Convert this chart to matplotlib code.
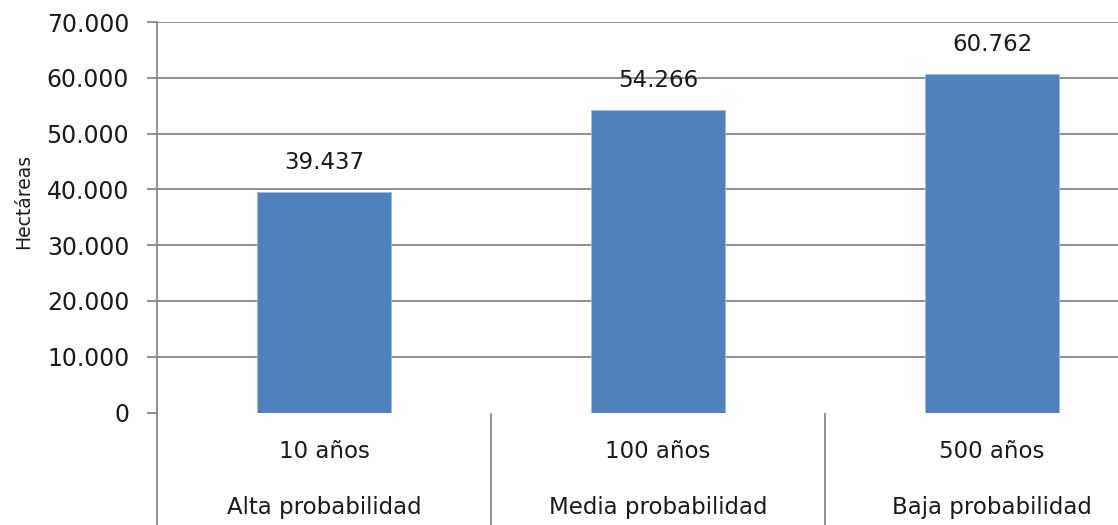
"""Hectáreas por periodo de retorno (estilo Excel)."""

import matplotlib

matplotlib.use("Agg")
import matplotlib.pyplot as plt
import matplotlib.transforms as mtransforms
from matplotlib.ticker import FuncFormatter, MultipleLocator

# data
periodos = ["10 años", "100 años", "500 años"]
probabilidad = ["Alta probabilidad", "Media probabilidad", "Baja probabilidad"]
hectareas = [39437, 54266, 60762]

BAR = "#4F81BD"
GRID = "#878787"
TXT = "#1a1a1a"


def miles(v, _pos=None):
    return f"{int(round(v)):,}".replace(",", ".")


def main() -> None:
    plt.rcParams["font.family"] = ["DejaVu Sans"]
    fig = plt.figure(figsize=(11.18, 5.25), dpi=100)
    # right edge of the plot runs past the picture, as in the cropped original
    ax = fig.add_axes([157 / 1118, 112.5 / 525, 1002 / 1118, 390.5 / 525])

    xs = range(len(hectareas))
    ax.bar(xs, hectareas, width=0.4, color=BAR, edgecolor="#9dbbe0", linewidth=0.6, zorder=3)
    for x, v in zip(xs, hectareas):
        ax.annotate(miles(v), (x, v), xytext=(0, 29.5), textcoords="offset pixels",
                    ha="center", va="center", fontsize=16.5, color=TXT)

    ax.set_xlim(-0.5, len(hectareas) - 0.5)
    ax.set_ylim(0, 70000)
    ax.yaxis.set_major_locator(MultipleLocator(10000))
    ax.yaxis.set_major_formatter(FuncFormatter(miles))
    ax.grid(axis="y", color=GRID, linewidth=1.3, zorder=0)
    ax.tick_params(axis="y", length=7, width=1.3, color=GRID, labelsize=17,
                   labelcolor=TXT, pad=13)
    ax.set_xticks([])
    for s in ("top", "right", "bottom"):
        ax.spines[s].set_visible(False)
    ax.spines["left"].set_color(GRID)
    ax.spines["left"].set_linewidth(1.3)
    ax.set_ylabel("Hectáreas", fontsize=13.5, color=TXT)
    ax.yaxis.set_label_coords(-0.124, 0.54)

    # no line along zero, like the original
    fig.canvas.draw()
    for tick in ax.yaxis.get_major_ticks():
        if abs(tick.get_loc()) < 1:
            tick.gridline.set_visible(False)

    # two-level category axis
    trans = mtransforms.blended_transform_factory(ax.transData, ax.transAxes)
    for x, (p, q) in enumerate(zip(periodos, probabilidad)):
        ax.text(x, -0.1, p, transform=trans, ha="center", va="center",
                fontsize=16.5, color=TXT)
        ax.text(x, -0.244, q, transform=trans, ha="center", va="center",
                fontsize=16.5, color=TXT)
    for b in [-0.5, 0.5, 1.5]:
        ax.plot([b, b], [0 if b == -0.5 else -0.003, -0.4], transform=trans,
                color=GRID, linewidth=1.3, clip_on=False)

    fig.savefig("out.png", dpi=100, facecolor="white")
    plt.close(fig)


if __name__ == "__main__":
    main()
